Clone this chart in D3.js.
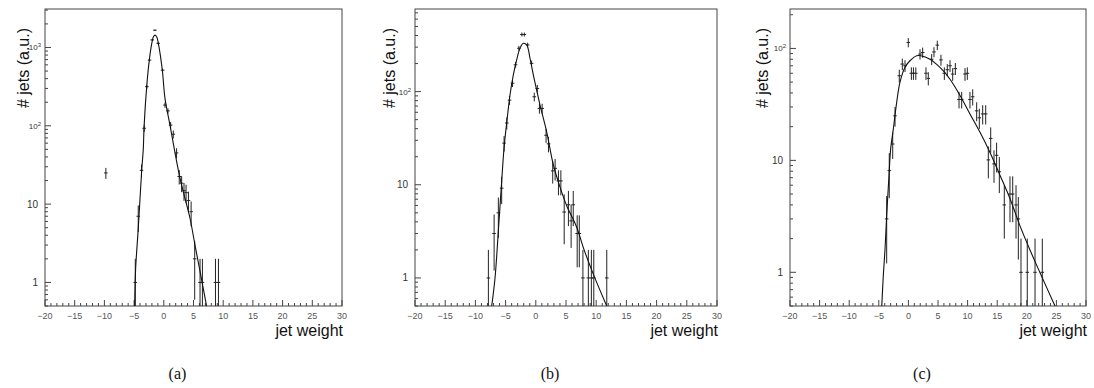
<!DOCTYPE html>
<html><head><meta charset="utf-8">
<script src="https://cdn.jsdelivr.net/npm/d3@7"></script>
<style>
html,body{margin:0;padding:0;background:#fff;}
svg{display:block;}
</style></head>
<body>
<script>
// ---------------- DATA ----------------
const xTickValues = [-20, -15, -10, -5, 0, 5, 10, 15, 20, 25, 30];
const xAxisTitle = "jet weight";
const yAxisTitle = "# jets (a.u.)";
const panelLabels = ["(a)", "(b)", "(c)"];

// panel (a)
const aX   = [-9.75, -4.8, -4.3, -3.75, -3.3, -2.85, -2.4, -1.95, -1.5, -0.95, -0.2, 0.2, 0.7, 1.15, 1.6, 2.15, 2.6, 3.0, 3.4, 3.75, 4.15, 4.6, 5.2, 6.1, 6.5, 8.7, 9.2];
const aY   = [25, 1, 7, 27, 93, 316, 690, 1250, 1660, 1130, 513, 184, 155, 102, 78, 45, 22.5, 18.5, 14.8, 14, 11.1, 8, 2, 1, 1, 1, 1];
const aErr = [4, 1, 2.6, 5, 10, 18, 26, 35, 40, 34, 23, 14, 12, 10, 9, 6.7, 4.7, 4.3, 3.8, 3.7, 3.3, 2.8, 1.4, 1, 1, 1, 1];
const aCurveX = [-4.9, -4.75, -4.3, -3.72, -3.45, -3.33, -2.88, -2.44, -2.0, -1.75, -1.48, -1.2, -0.92, -0.25, 0.2, 1.04, 2.73, 4.41, 5.25, 6.1, 7.2];
const aCurveY = [0.5, 1.45, 4.9, 27, 51, 93, 316, 690, 1150, 1370, 1440, 1370, 1130, 515, 224, 102, 21.4, 6.6, 3.0, 1.38, 0.5];
const aYMax = 3100;

// panel (b)
const bX   = [-7.85, -6.9, -6.2, -5.65, -5.25, -4.8, -4.35, -3.85, -3.35, -2.8, -2.3, -1.9, -1.35, -0.7, -0.25, 0.25, 0.6, 1.05, 1.7, 2.1, 2.8, 3.2, 3.75, 4.15, 4.7, 5.4, 5.85, 6.2, 6.85, 7.2, 7.8, 8.7, 9.2, 9.6, 11.75];
const bY   = [1, 3, 5, 9.2, 28, 46, 81, 123, 194, 292, 410, 410, 317, 201, 88, 108, 66, 66, 34, 27.5, 14.1, 15, 11, 11, 5.1, 6.1, 4.1, 6.1, 3, 3, 1, 1, 1, 1, 1];
const bErr = [1, 1.8, 2.3, 3, 5.3, 6.8, 9, 11, 14, 17, 20, 20, 18, 14, 9.4, 10, 8, 8, 5.8, 5.2, 3.8, 3.9, 3.3, 3.3, 2.8, 2.5, 2, 2.5, 1.7, 1.7, 1, 1, 1, 1, 1];
const bCurveX = [-7.3, -6.75, -6.2, -5.65, -5.26, -4.82, -4.27, -3.72, -3.17, -2.62, -2.07, -1.51, -0.96, -0.41, 0.14, 0.69, 1.8, 2.9, 4.0, 5.1, 6.77, 8.0, 9.52, 11.74];
const bCurveY = [0.5, 1, 3.2, 10.9, 24.7, 46, 92, 151, 219, 292, 330, 317, 228, 151, 104, 72, 37, 16.4, 9.5, 6.0, 3.5, 2.0, 1.1, 0.5];
const bYMax = 770;

// panel (c)
const cX   = [-3.67, -3.23, -2.65, -2.26, -1.54, -1.03, -0.57, -0.02, 0.5, 0.85, 1.25, 1.96, 2.41, 2.97, 3.36, 3.93, 4.32, 4.88, 5.5, 6.07, 6.57, 7.03, 7.48, 7.93, 8.55, 9.0, 9.56, 9.95, 10.4, 10.86, 11.53, 11.98, 12.55, 13.06, 13.5, 13.9, 14.46, 14.9, 15.36, 16.2, 17.16, 17.62, 18.18, 18.57, 19.02, 20.08, 21.39, 22.62];
const cY   = [3, 8.1, 14, 25, 57, 72.5, 70, 113, 60, 60, 60, 89, 92, 60, 54, 80, 93, 107, 79, 60, 64.5, 70, 59, 66, 35, 35, 59, 60, 35, 37, 27.7, 24, 26, 26, 10.1, 15.7, 9.3, 11.1, 7.9, 4, 5, 5, 4, 3, 1, 1, 1, 1];
const cErr = [1.8, 3.5, 3.7, 5, 7.5, 8.5, 8.4, 10.6, 7.7, 7.7, 7.7, 9.4, 9.6, 7.7, 7.3, 9, 9.6, 10.3, 8.9, 7.7, 8, 8.4, 7.7, 8.1, 5.9, 5.9, 7.7, 7.7, 5.9, 6.1, 5.3, 4.9, 5.1, 5.1, 3.2, 4, 3, 3.3, 2.8, 2, 2.2, 2.2, 2, 1.7, 1, 1, 1, 1];
const cCurveX = [-4.5, -4.24, -3.95, -3.67, -3.28, -3.0, -2.55, -1.98, -1.42, -0.57, 0.27, 1.4, 2.1, 3.65, 4.78, 5.9, 7.03, 8.72, 10.4, 12.1, 13.8, 15.5, 17.2, 18.85, 20.5, 22.2, 24.76];
const cCurveY = [0.5, 0.93, 1.6, 3.2, 7.3, 12.6, 19, 33, 50, 68, 77.6, 86, 86, 80, 72, 63, 53, 38, 26, 17.8, 11.7, 7.3, 4.5, 2.6, 1.6, 1.0, 0.5];
const cYMax = 225;

const xDomain = [-20, 30];
const yMin = 0.5;

// ---------------- LAYOUT ----------------
const W = 1094, H = 388;
const panels = [
  {x0: 45,  x1: 342,  y0: 9, y1: 306, ymax: aYMax, X: aX, Y: aY, E: aErr, CX: aCurveX, CY: aCurveY, ytx: 29,  lab: panelLabels[0]},
  {x0: 415, x1: 717,  y0: 9, y1: 306, ymax: bYMax, X: bX, Y: bY, E: bErr, CX: bCurveX, CY: bCurveY, ytx: 395, lab: panelLabels[1]},
  {x0: 790, x1: 1086, y0: 9, y1: 306, ymax: cYMax, X: cX, Y: cY, E: cErr, CX: cCurveX, CY: cCurveY, ytx: 768, lab: panelLabels[2]}
];
const hw = 0.3; // half bin width for crosses

const svg = d3.select("body").append("svg").attr("width", W).attr("height", H)
  .style("font-family", "'Liberation Sans', Arial, sans-serif");

panels.forEach((p, i) => {
  const x = d3.scaleLinear().domain(xDomain).range([p.x0, p.x1]);
  const y = d3.scaleLog().domain([yMin, p.ymax]).range([p.y1, p.y0]);
  const g = svg.append("g");

  const clipId = "clip" + i;
  svg.append("clipPath").attr("id", clipId).append("rect")
    .attr("x", p.x0).attr("y", p.y0).attr("width", p.x1 - p.x0).attr("height", p.y1 - p.y0);

  // frame
  g.append("rect").attr("x", p.x0).attr("y", p.y0).attr("width", p.x1 - p.x0).attr("height", p.y1 - p.y0)
    .attr("fill", "none").attr("stroke", "#444").attr("stroke-width", 1);

  // x ticks (inside, pointing up)
  const xMinor = d3.range(xDomain[0], xDomain[1] + 0.001, 1);
  g.selectAll(".xt").data(xMinor).enter().append("line")
    .attr("x1", d => x(d)).attr("x2", d => x(d))
    .attr("y1", p.y1).attr("y2", d => p.y1 - (d % 5 === 0 ? 6 : 3))
    .attr("stroke", "#444").attr("stroke-width", 1);
  g.selectAll(".xl").data(xTickValues).enter().append("text")
    .attr("x", d => x(d)).attr("y", p.y1 + 13)
    .attr("text-anchor", "middle").attr("font-size", 9).attr("fill", "#555")
    .text(d => d < 0 ? "\u2212" + Math.abs(d) : String(d));

  // y ticks (log)
  const eMin = Math.floor(Math.log10(yMin)), eMax = Math.ceil(Math.log10(p.ymax));
  const minor = [];
  for (let e = eMin; e <= eMax; e++) for (let k = 1; k <= 9; k++) {
    const v = k * Math.pow(10, e);
    if (v >= yMin && v <= p.ymax) minor.push({v, major: k === 1, e});
  }
  g.selectAll(".yt").data(minor).enter().append("line")
    .attr("x1", p.x0).attr("x2", d => p.x0 + (d.major ? 6 : 3))
    .attr("y1", d => y(d.v)).attr("y2", d => y(d.v))
    .attr("stroke", "#444").attr("stroke-width", 1);
  minor.filter(d => d.major).forEach(d => {
    if (d.e >= 2) {
      const t = g.append("text").attr("x", p.x0 - 4).attr("y", y(d.v) + 3)
        .attr("text-anchor", "end").attr("font-size", 8).attr("fill", "#333");
      t.append("tspan").text("10");
      t.append("tspan").attr("font-size", 6).attr("dy", -3).text(String(d.e));
    } else {
      g.append("text").attr("x", p.x0 - 7).attr("y", y(d.v) + 3.5)
        .attr("text-anchor", "end").attr("font-size", 10).attr("fill", "#333")
        .text(d.e === 1 ? "10" : "1");
    }
  });

  // data crosses
  const pg = g.append("g").attr("clip-path", `url(#${clipId})`);
  const pts = p.X.map((xv, j) => ({x: xv, y: p.Y[j], e: p.E[j]}));
  pts.forEach(d => {
    const lo = Math.max(d.y - d.e, yMin * 0.5);
    pg.append("line").attr("x1", x(d.x)).attr("x2", x(d.x))
      .attr("y1", y(lo)).attr("y2", y(d.y + d.e))
      .attr("stroke", "#222").attr("stroke-width", 1);
    pg.append("line").attr("x1", x(d.x - hw)).attr("x2", x(d.x + hw))
      .attr("y1", y(d.y)).attr("y2", y(d.y))
      .attr("stroke", "#222").attr("stroke-width", 1);
  });

  // fitted curve
  const cpts = p.CX.map((cx, j) => [cx, p.CY[j]]);
  pg.append("path").datum(cpts)
    .attr("d", d3.line().x(d => x(d[0])).y(d => y(d[1])).curve(d3.curveCatmullRom.alpha(0.5)))
    .attr("fill", "none").attr("stroke", "#111").attr("stroke-width", 1.1);

  // axis titles
  g.append("text").attr("transform", `translate(${p.ytx},28) rotate(-90)`)
    .attr("text-anchor", "end").attr("font-size", 16).attr("fill", "#111").text(yAxisTitle);
  g.append("text").attr("x", p.x1 + 1).attr("y", 336)
    .attr("text-anchor", "end").attr("font-size", 16).attr("fill", "#111").text(xAxisTitle);

  // panel label
  g.append("text").attr("x", (p.x0 + p.x1) / 2 - 16).attr("y", 379)
    .attr("text-anchor", "middle").attr("font-size", 16)
    .attr("font-family", "'Liberation Serif', 'Times New Roman', serif").attr("fill", "#111")
    .text(p.lab);
});
</script>
</body></html>
